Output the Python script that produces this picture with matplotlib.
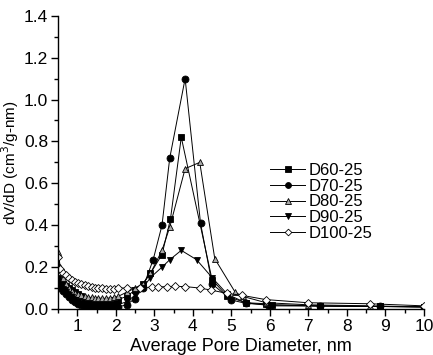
import matplotlib
matplotlib.use('Agg')
import matplotlib.pyplot as plt
from matplotlib.ticker import MultipleLocator, FormatStrFormatter

plt.rcParams['font.family'] = ['Liberation Sans', 'DejaVu Sans']

# low-diameter grid shared by the series
x_low = [0.5, 0.56, 0.63, 0.7, 0.78, 0.86, 0.94, 1.02, 1.1, 1.19, 1.28, 1.37,
         1.46, 1.55, 1.65, 1.75, 1.85, 1.95, 2.06, 2.28, 2.5, 2.7, 2.9]

d60_x = x_low + [3.2, 3.42, 3.7, 4.5, 4.9, 5.37, 5.9, 6.05, 7.3, 8.85, 10.0]
d60_y = [0.15, 0.13, 0.12, 0.11, 0.10, 0.09, 0.08, 0.07, 0.06, 0.05, 0.045,
         0.04, 0.035, 0.03, 0.028, 0.027, 0.03, 0.035, 0.045, 0.06, 0.09,
         0.12, 0.17,
         0.26, 0.43, 0.82, 0.14, 0.06, 0.03, 0.025, 0.02, 0.015, 0.012, 0.01]

d70_x = x_low[:-1] + [2.97, 3.2, 3.4, 3.8, 4.2, 4.5, 5.0, 5.37, 5.95, 7.3,
                      8.85, 10.0]
d70_y = [0.12, 0.10, 0.085, 0.07, 0.055, 0.045, 0.035, 0.025, 0.018, 0.012,
         0.008, 0.005, 0.004, 0.003, 0.003, 0.003, 0.004, 0.006, 0.01, 0.02,
         0.05, 0.10,
         0.235, 0.40, 0.72, 1.10, 0.41, 0.12, 0.043, 0.027, 0.02, 0.014,
         0.012, 0.01]

d80_x = x_low + [3.2, 3.4, 3.8, 4.18, 4.57, 5.1, 5.3, 5.9, 7.0, 8.6, 10.0]
d80_y = [0.27, 0.20, 0.15, 0.12, 0.10, 0.085, 0.075, 0.07, 0.065, 0.06, 0.057,
         0.055, 0.053, 0.052, 0.051, 0.051, 0.053, 0.056, 0.06, 0.08, 0.10,
         0.12, 0.17,
         0.28, 0.39, 0.67, 0.70, 0.24, 0.08, 0.06, 0.03, 0.02, 0.015, 0.01]

d90_x = x_low + [3.2, 3.4, 3.7, 4.1, 4.5, 4.9, 5.37, 6.05, 7.3, 8.85, 10.0]
d90_y = [0.13, 0.11, 0.095, 0.08, 0.065, 0.055, 0.045, 0.035, 0.028, 0.022,
         0.017, 0.013, 0.01, 0.009, 0.008, 0.008, 0.01, 0.014, 0.02, 0.035,
         0.065, 0.10, 0.15,
         0.20, 0.235, 0.28, 0.235, 0.15, 0.07, 0.03, 0.015, 0.014, 0.012, 0.01]

d100_x = x_low[:-5] + [2.06, 2.28, 2.63, 2.93, 3.1, 3.32, 3.53, 3.8, 4.18,
                       4.48, 4.88, 5.28, 5.89, 6.98, 8.6, 10.0]
d100_y = [0.25, 0.19, 0.17, 0.16, 0.15, 0.14, 0.13, 0.125, 0.12, 0.115, 0.11,
          0.105, 0.10, 0.10, 0.098, 0.096, 0.096, 0.096, 0.1, 0.1, 0.102,
          0.104, 0.105, 0.107, 0.108, 0.107, 0.1, 0.09, 0.075, 0.065, 0.045,
          0.03, 0.025, 0.015]

series = [
    ('D60-25', d60_x, d60_y, 's', 'black'),
    ('D70-25', d70_x, d70_y, 'o', 'black'),
    ('D80-25', d80_x, d80_y, '^', '#a8a8a8'),
    ('D90-25', d90_x, d90_y, 'v', 'black'),
    ('D100-25', d100_x, d100_y, 'D', 'white'),
]

fig = plt.figure(figsize=(4.33, 3.55), dpi=100)
ax = fig.add_axes([0.134, 0.1296, 0.845, 0.826])

for name, xs, ys, mk, fc in series:
    ms = 4.0 if mk == 'D' else 5.0
    ax.plot(xs, ys, '-', color='black', lw=0.7, marker=mk, ms=ms,
            mfc=fc, mec='black', mew=0.6, label=name)

ax.set_xlim(0.5, 10)
ax.set_ylim(0, 1.4)
ax.xaxis.set_major_locator(MultipleLocator(1))
ax.xaxis.set_minor_locator(MultipleLocator(0.5))
ax.yaxis.set_major_locator(MultipleLocator(0.2))
ax.yaxis.set_minor_locator(MultipleLocator(0.1))
ax.yaxis.set_major_formatter(FormatStrFormatter('%.1f'))

for s in ['top', 'right']:
    ax.spines[s].set_visible(False)
for s in ['left', 'bottom']:
    ax.spines[s].set_linewidth(1.0)

ax.tick_params(which='major', direction='out', length=5, width=1,
               labelsize=12.5, pad=2)
ax.tick_params(which='minor', direction='out', length=3, width=1)

ax.set_xlabel('Average Pore Diameter, nm', fontsize=13, labelpad=3)
ax.set_ylabel('dV/dD (cm$^3$/g-nm)', fontsize=11, labelpad=2)

ax.legend(loc='center left', bbox_to_anchor=(0.557, 0.365), frameon=False,
          fontsize=12, handlelength=2.1, handletextpad=0.2,
          labelspacing=0.05, borderpad=0, markerscale=0.85)

fig.savefig('out.png', dpi=100)
